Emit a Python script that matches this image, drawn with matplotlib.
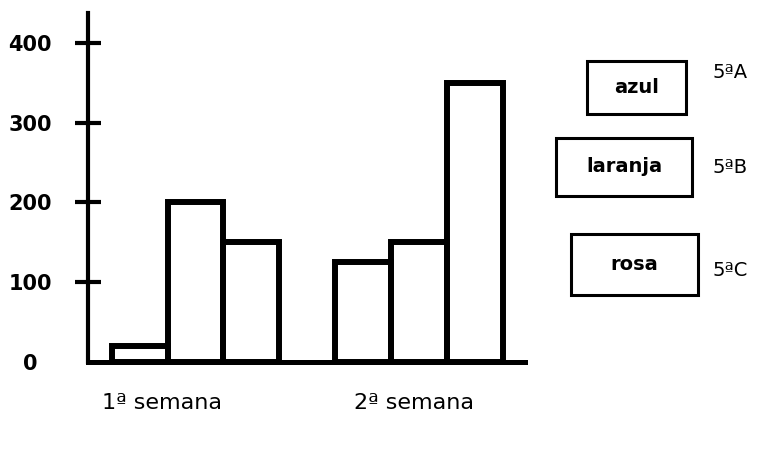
import matplotlib
matplotlib.use("Agg")
import matplotlib.pyplot as plt
from matplotlib.patches import Rectangle
import numpy as np

# data
weeks = ["1ª semana", "2ª semana"]
turma_5A = [20, 125]
turma_5B = [200, 150]
turma_5C = [150, 350]
classes = ["5ªA", "5ªB", "5ªC"]
cores = ["azul", "laranja", "rosa"]
yticks = [0, 100, 200, 300, 400]

W, H = 779, 471
fig = plt.figure(figsize=(W / 100, H / 100), dpi=100)
ax = fig.add_axes([88 / W, (H - 362) / H, (525 - 88) / W, (362 - 13) / H])

x = np.arange(len(weeks))
width = 0.25
for off, vals in zip([-width, 0, width], [turma_5A, turma_5B, turma_5C]):
    ax.bar(x + off, vals, width=width, fill=False, edgecolor="black",
           linewidth=4.3, zorder=3)

ax.set_xlim(-0.481, 1.474)
ax.set_ylim(0, 437.6)

for s in ["top", "right"]:
    ax.spines[s].set_visible(False)
ax.spines["left"].set_linewidth(3)
ax.spines["bottom"].set_linewidth(3.6)

ax.set_yticks(yticks)
ax.set_yticklabels([str(v) for v in yticks], fontsize=15, fontweight="bold",
                   ha="center")
ax.tick_params(axis="y", direction="inout", length=19, width=3, pad=32)
ax.yaxis.get_major_ticks()[0].tick1line.set_visible(False)

# week labels sit a bit left of the bar groups
ax.set_xticks([-0.150, 0.978])
ax.set_xticklabels(weeks, fontsize=16)
ax.tick_params(axis="x", length=0, pad=22)

# hand-made legend boxes
boxes = [(587, 61, 99, 53), (556, 138, 136, 58), (571, 234, 127, 61)]
label_y = [73, 168, 270]
for (bx, by, bw, bh), cor, cls, ly in zip(boxes, cores, classes, label_y):
    fig.add_artist(Rectangle((bx / W, 1 - (by + bh) / H), bw / W, bh / H,
                             transform=fig.transFigure, fill=False,
                             edgecolor="black", linewidth=2.2))
    fig.text((bx + bw / 2) / W, 1 - (by + bh / 2) / H, cor, ha="center",
             va="center", fontsize=14, fontweight="bold")
    fig.text(713 / W, 1 - ly / H, cls, ha="left", va="center", fontsize=14)

fig.savefig("out.png", dpi=100, facecolor="white")
